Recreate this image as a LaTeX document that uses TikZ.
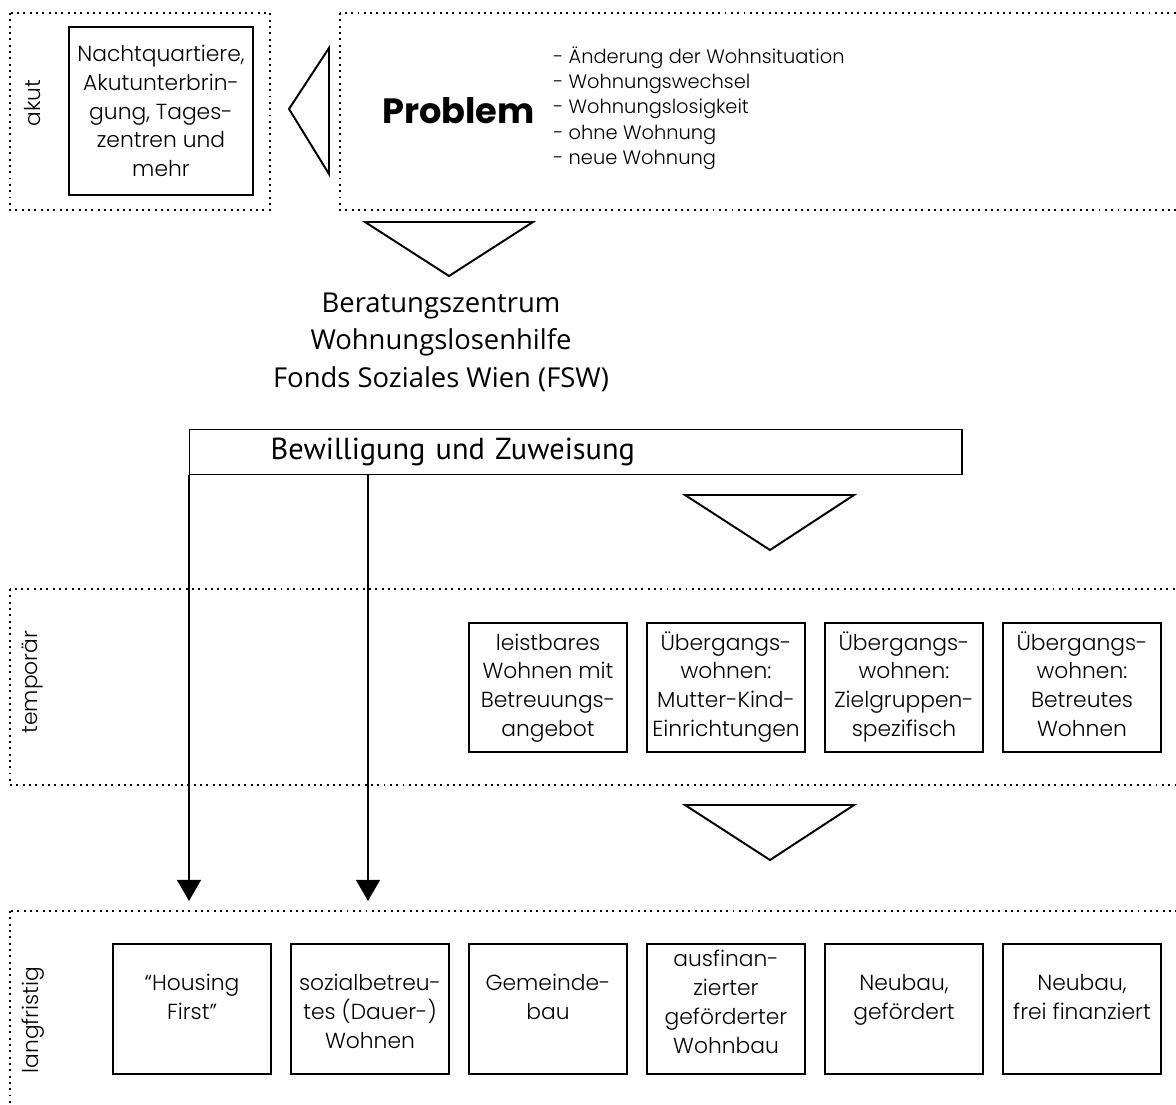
\documentclass[tikz,border=0pt]{standalone}
\usepackage{fontspec}
\IfFontExistsTF{Poppins Light}{\setmainfont{Poppins Light}[BoldFont=Poppins Bold]}{\setmainfont{Poppins}}
\newfontfamily\beratfont{Open Sans}
\newfontfamily\bewfont{PT Sans}
\usetikzlibrary{arrows.meta,positioning,calc}
\tikzstyle{zone}=[line width=1.4pt, dash pattern=on 1.4pt off 3.1pt]
\tikzstyle{angebot}=[draw, line width=1.4pt, inner sep=0pt, align=center, font=\fontsize{15.5}{20.5}\selectfont]
\tikzstyle{temp box}=[angebot, minimum width=3.95cm, minimum height=3.225cm]
\tikzstyle{lang box}=[angebot, minimum width=3.95cm, minimum height=3.25cm]
\tikzstyle{lang text}=[inner sep=0pt, align=center, anchor=north, font=\fontsize{15.5}{20.5}\selectfont]
\tikzstyle{ebene}=[rotate=90, inner sep=0pt, font=\fontsize{15.5}{18}\selectfont]
\tikzstyle{stufe}=[line width=1.4pt, line join=miter]
\tikzstyle{zuweisung}=[-{Triangle[width=17pt,length=15pt]}, line width=1pt]

\begin{document}
\begin{tikzpicture}[x=0.025cm, y=-0.025cm]
    \useasboundingbox (0,0) rectangle (1176,1104);
    \clip (0,0) rectangle (1176,1104);

    % akut
    \draw[zone] (10,13) rectangle (270,210);
    \node[ebene] (akut) at (33,103) {akut};
    \node[angebot, minimum width=4.6cm, minimum height=4.2cm] (nacht) at (161,111)
        {Nachtquartiere,\\Akutunterbrin-\\gung, Tages-\\zentren und\\mehr};
    \draw[stufe] (329,48) -- (329,174) -- (289,109) -- cycle;

    % Problem
    \draw[zone] (340,13) rectangle (1200,210);
    \node[anchor=base, font=\bfseries\fontsize{25}{30}\selectfont] (problem) at (458.5,123) {Problem};
    \node[anchor=west, align=left, inner sep=0pt, font=\fontsize{13.8}{18}\selectfont] (situation) at (553,108)
        {- Änderung der Wohnsituation\\- Wohnungswechsel\\- Wohnungslosigkeit\\- ohne Wohnung\\- neue Wohnung};
    \draw[stufe] (365,222) -- (533,222) -- (449,276) -- cycle;

    \node[align=center, font=\beratfont\fontsize{19.5}{26.7}\selectfont] (fsw) at (441,342)
        {Beratungszentrum\\Wohnungslosenhilfe\\Fonds Soziales Wien (FSW)};

    \node[draw, line width=1pt, anchor=north west, minimum width=19.3cm, minimum height=1.125cm,
        text width=15.25cm, inner xsep=2.025cm, inner ysep=0pt, align=left,
        font=\bewfont\fontsize{21.6}{24}\selectfont] (bew) at (189,429) {Bewilligung und Zuweisung};
    \draw[stufe] (685,495) -- (854,495) -- (770,550) -- cycle;

    % temporaer
    \draw[zone] (10,589) rectangle (1200,785);
    \node[ebene] (temporaer) at (33,682) {temporär};
    \foreach \i/\txt in {1/{leistbares\\Wohnen mit\\Betreuungs-\\angebot},
                         2/{Übergangs-\\wohnen:\\Mutter-Kind-\\Einrichtungen},
                         3/{Übergangs-\\wohnen:\\Zielgruppen-\\spezifisch},
                         4/{Übergangs-\\wohnen:\\Betreutes\\Wohnen}}
        \node[temp box] (temp-\i) at (548+178*\i-178, 687.5) {\strut\txt\strut};
    \draw[stufe] (685,805) -- (854,805) -- (770,860) -- cycle;

    % langfristig
    \draw[zone] (10,911) rectangle (1200,1140);
    \node[ebene] (langfristig) at (33,1020) {langfristig};
    \foreach \i/\gap/\txt in {1/22/{“Housing\\First”},
                              2/22/{sozialbetreu-\\tes (Dauer-)\\Wohnen},
                              3/22/{Gemeinde-\\bau},
                              4/5/{ausfinan-\\zierter\\geförderter\\Wohnbau},
                              5/22/{Neubau,\\gefördert},
                              6/22/{Neubau,\\frei finanziert}}
        \node[lang box, label={[lang text, label distance=-\gap pt]90:{\txt}}] (lang-\i) at (192+178*\i-178, 1009) {};

    \coordinate (housing-in) at (189,901);
    \coordinate (sozial-in) at (368,901);
    \draw[zuweisung] (bew.south west) -- (housing-in);
    \draw[zuweisung] (sozial-in |- bew.south) -- (sozial-in);
\end{tikzpicture}
\end{document}
